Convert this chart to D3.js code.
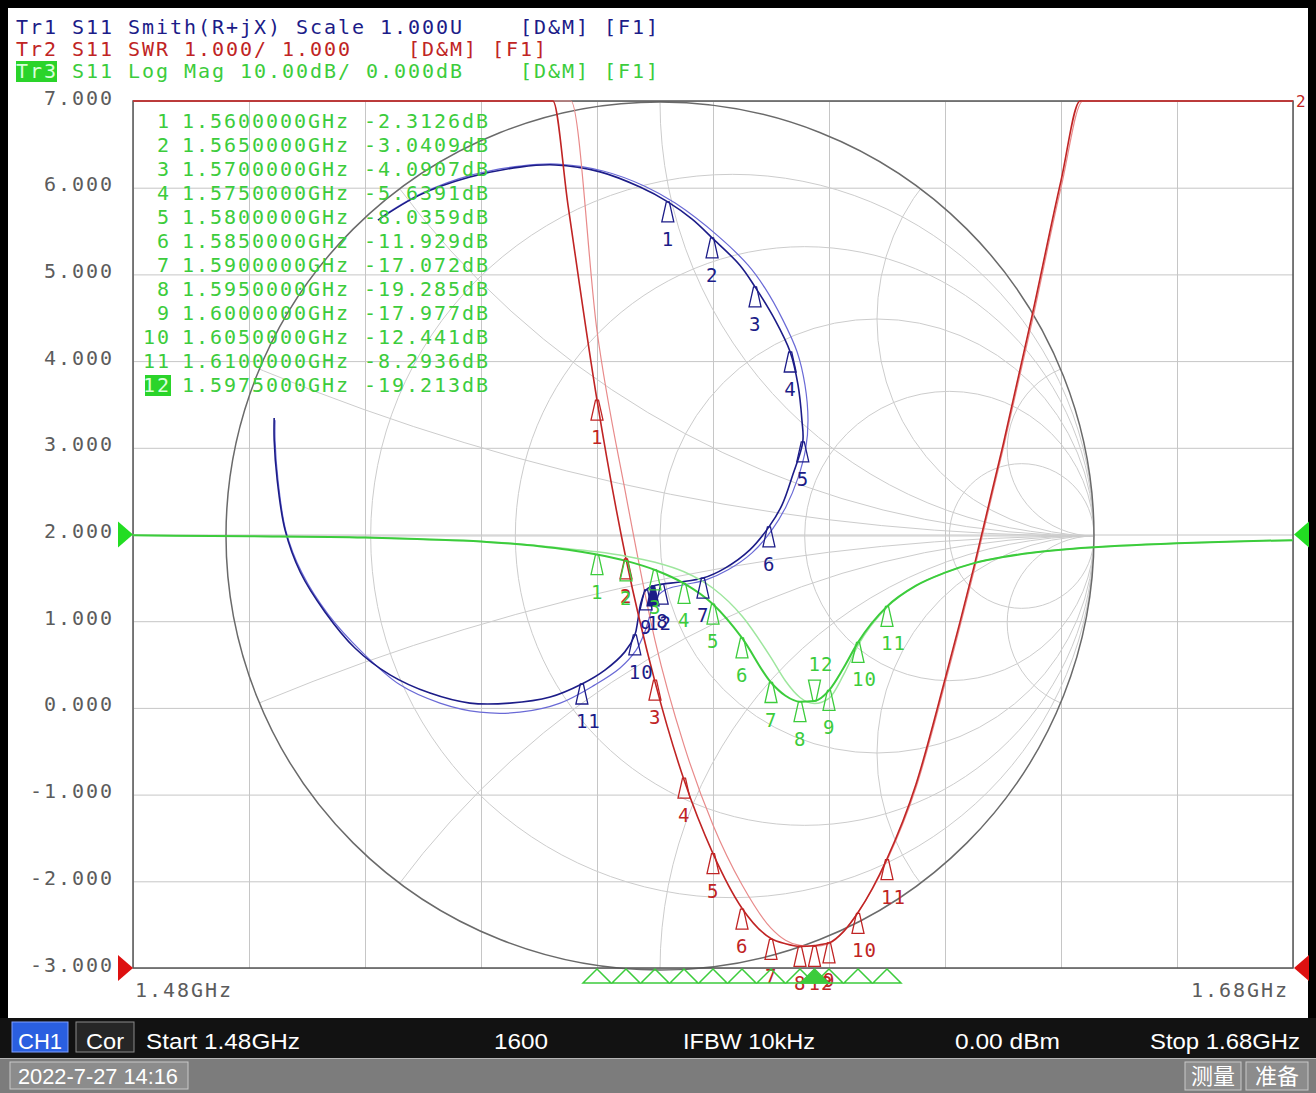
<!DOCTYPE html>
<html>
<head>
<meta charset="utf-8">
<title>S11 - Smith / SWR / Log Mag</title>
<script src="https://cdn.jsdelivr.net/npm/d3@7"></script>
<style>
  html, body { margin: 0; padding: 0; background: #000; }
  svg { display: block; }
  .mono { font-family: 'DejaVu Sans Mono', monospace; font-size: 20px; letter-spacing: 1.96px; white-space: pre; }
  .mlab { font-family: 'DejaVu Sans Mono', monospace; font-size: 19px; letter-spacing: 1px; }
  .bar { font-family: 'Liberation Sans Narrow', 'Liberation Sans', sans-serif; font-size: 22px; fill: #fff; }
</style>
</head>
<body>
<svg id="chart" width="1316" height="1093"></svg>
<script>
// stimulus / axis
const startGHz = 1.48, stopGHz = 1.68;
const xGridTicks = [1.48, 1.50, 1.52, 1.54, 1.56, 1.58, 1.60, 1.62, 1.64, 1.66, 1.68];
const yTicks = [7, 6, 5, 4, 3, 2, 1, 0, -1, -2, -3];
const xLabels = ['1.48GHz', '1.68GHz'];

// markers (from the marker table)
const markerNo = [1, 2, 3, 4, 5, 6, 7, 8, 9, 10, 11, 12];
const markerFreq = [1.56, 1.565, 1.57, 1.575, 1.58, 1.585, 1.59, 1.595, 1.60, 1.605, 1.61, 1.5975];
const markerDb = [-2.3126, -3.0409, -4.0907, -5.6391, -8.0359, -11.929, -17.072, -19.285, -17.977, -12.441, -8.2936, -19.213];
const markerSwr = [7.55, 5.72, 4.32, 3.19, 2.32, 1.68, 1.33, 1.25, 1.29, 1.63, 2.25, 1.25];
const markerRe = [0.018, 0.120, 0.219, 0.300, 0.329, 0.251, 0.099, 0.005, -0.032, -0.058, -0.180, -0.016];
const markerIm = [0.770, 0.687, 0.574, 0.424, 0.217, 0.021, -0.097, -0.111, -0.124, -0.228, -0.341, -0.115];

// Tr3 log mag (dB)
const logFreq = [1.48, 1.50, 1.52, 1.53, 1.54, 1.545, 1.55, 1.555, 1.56, 1.565, 1.57, 1.575, 1.58, 1.585, 1.59, 1.5925, 1.595, 1.5975, 1.60, 1.6025, 1.605, 1.61, 1.615, 1.62, 1.625, 1.63, 1.635, 1.64, 1.645, 1.65, 1.66, 1.67, 1.68];
const logData = [-0.1, -0.2, -0.35, -0.55, -0.8, -1.05, -1.35, -1.75, -2.31, -3.04, -4.09, -5.64, -8.04, -11.93, -17.07, -18.6, -19.29, -19.21, -17.98, -15.4, -12.44, -8.29, -5.9, -4.4, -3.3, -2.6, -2.1, -1.75, -1.5, -1.3, -1.0, -0.8, -0.65];
const logMem = [-0.1, -0.2, -0.35, -0.55, -0.8, -1.0, -1.3, -1.65, -2.0, -2.5, -3.2, -4.3, -6.2, -9.4, -14.2, -16.9, -18.8, -19.5, -18.9, -16.2, -12.8, -8.4, -5.9, -4.4, -3.3, -2.6, -2.1, -1.75, -1.5, -1.3, -1.0, -0.8, -0.65];

// Tr2 SWR
const swrFreq = [1.48, 1.50, 1.52, 1.54, 1.55, 1.5524, 1.555, 1.56, 1.565, 1.57, 1.575, 1.58, 1.585, 1.59, 1.5925, 1.595, 1.5975, 1.60, 1.6025, 1.605, 1.61, 1.615, 1.62, 1.625, 1.63, 1.635, 1.64, 1.6433, 1.65, 1.66, 1.68];
const swrData = [170, 90, 45, 20, 13, 11.0, 9.8, 7.55, 5.72, 4.30, 3.17, 2.32, 1.69, 1.34, 1.28, 1.25, 1.26, 1.29, 1.42, 1.64, 2.26, 3.12, 4.33, 5.63, 7.03, 8.52, 10.08, 11.0, 14, 19, 27];
const swrMemFreq = [1.48, 1.50, 1.52, 1.54, 1.55, 1.5555, 1.56, 1.565, 1.57, 1.575, 1.58, 1.585, 1.59, 1.5925, 1.595, 1.5975, 1.60, 1.6025, 1.605, 1.61, 1.615, 1.62, 1.625, 1.63, 1.635, 1.64, 1.6438, 1.65, 1.66, 1.68];
const swrMem = [200, 110, 60, 28, 17, 11.0, 8.35, 6.45, 4.78, 3.57, 2.65, 1.96, 1.46, 1.32, 1.26, 1.25, 1.28, 1.42, 1.64, 2.24, 3.08, 4.28, 5.58, 6.98, 8.45, 10.0, 11.0, 15, 20, 30];

// Tr1 Smith (reflection coefficient, 1.48 -> 1.68 GHz)
const smithDataRe = [-0.650, -0.553, -0.438, -0.323, -0.242, -0.138, -0.046, 0.018, 0.074, 0.120, 0.184, 0.219, 0.265, 0.300, 0.318, 0.327, 0.329, 0.306, 0.281, 0.251, 0.207, 0.150, 0.099, 0.046, 0.005, -0.016, -0.032, -0.044, -0.051, -0.058, -0.081, -0.127, -0.180, -0.253, -0.346, -0.438, -0.530, -0.622, -0.703, -0.772, -0.829, -0.864, -0.882, -0.889, -0.889];
const smithDataIm = [0.728, 0.786, 0.827, 0.850, 0.855, 0.839, 0.804, 0.770, 0.730, 0.687, 0.624, 0.574, 0.498, 0.424, 0.348, 0.267, 0.217, 0.141, 0.071, 0.021, -0.032, -0.074, -0.097, -0.106, -0.111, -0.115, -0.124, -0.154, -0.194, -0.228, -0.267, -0.309, -0.341, -0.371, -0.385, -0.385, -0.362, -0.320, -0.258, -0.175, -0.083, 0.014, 0.129, 0.221, 0.272];
const smithMemRe = [-0.645, -0.548, -0.433, -0.318, -0.237, -0.131, -0.035, 0.035, 0.134, 0.203, 0.242, 0.283, 0.316, 0.334, 0.341, 0.336, 0.318, 0.290, 0.258, 0.212, 0.157, 0.106, 0.053, 0.012, -0.012, -0.023, -0.035, -0.055, -0.092, -0.150, -0.230, -0.323, -0.415, -0.507, -0.599, -0.687, -0.765, -0.825, -0.862, -0.880, -0.887, -0.887];
const smithMemIm = [0.733, 0.790, 0.832, 0.853, 0.857, 0.841, 0.806, 0.767, 0.691, 0.624, 0.571, 0.498, 0.424, 0.348, 0.267, 0.203, 0.134, 0.067, 0.014, -0.039, -0.078, -0.101, -0.113, -0.124, -0.147, -0.182, -0.221, -0.263, -0.304, -0.343, -0.385, -0.406, -0.406, -0.385, -0.343, -0.267, -0.180, -0.085, 0.012, 0.127, 0.221, 0.267];

// smith grid values
const smithR = [0.2, 0.5, 1, 2, 5];
const smithX = [0.2, 0.5, 1, 2, 5, -0.2, -0.5, -1, -2, -5];

const C = {
  blue: '#1c1c88', blueMem: '#6a6ad6',
  red: '#c02424', redMem: '#e88a8a',
  green: '#3ccc3c', greenMem: '#9ee69e',
  grid: '#c6c6c6', sgrid: '#cccccc'
};

function draw() {
  const svg = d3.select('#chart');
  const plot = {left: 133, right: 1293, top: 101, bottom: 968};

  svg.append('rect').attr('width', 1316).attr('height', 1093).attr('fill', '#000');
  svg.append('rect').attr('x', 8).attr('y', 8).attr('width', 1300).attr('height', 1010).attr('fill', '#fff');

  const x = d3.scaleLinear().domain([startGHz, stopGHz]).range([plot.left, plot.right]);
  const yDiv = d3.scaleLinear().domain([-3, 7]).range([plot.bottom, plot.top]);
  const yDb = d3.scaleLinear().domain([-50, 50]).range([plot.bottom, plot.top]).clamp(true);
  const ySwr = d3.scaleLinear().domain([1, 11]).range([plot.bottom, plot.top]).clamp(true);

  const cx = 660, cy = 536, R = 434;
  const gx = d3.scaleLinear().domain([-1, 1]).range([cx - R, cx + R]);
  const gy = d3.scaleLinear().domain([-1, 1]).range([cy + R, cy - R]);

  const defs = svg.append('defs');
  defs.append('clipPath').attr('id', 'unit')
    .append('circle').attr('cx', gx(0)).attr('cy', gy(0)).attr('r', R);
  defs.append('clipPath').attr('id', 'plotClip')
    .append('rect').attr('x', plot.left).attr('y', plot.top - 2)
    .attr('width', plot.right - plot.left).attr('height', plot.bottom - plot.top + 4);

  // rectangular grid
  svg.append('g').attr('transform', `translate(0,${plot.bottom})`)
    .call(d3.axisBottom(x).tickValues(xGridTicks).tickSize(-(plot.bottom - plot.top)).tickFormat(''))
    .call(g => g.select('.domain').remove())
    .call(g => g.selectAll('line').attr('stroke', C.grid));
  svg.append('g').attr('transform', `translate(${plot.left},0)`)
    .call(d3.axisLeft(yDiv).tickValues(yTicks).tickSize(-(plot.right - plot.left)).tickFormat(''))
    .call(g => g.select('.domain').remove())
    .call(g => g.selectAll('line').attr('stroke', C.grid));

  // smith grid
  const sg = svg.append('g').attr('clip-path', 'url(#unit)').attr('fill', 'none')
    .attr('stroke', C.sgrid).attr('stroke-width', 1);
  smithR.forEach(r => {
    sg.append('circle').attr('cx', gx(r / (1 + r))).attr('cy', gy(0)).attr('r', gx(1 / (1 + r)) - gx(0));
  });
  smithX.forEach(v => {
    sg.append('circle').attr('cx', gx(1)).attr('cy', gy(1 / v)).attr('r', gx(1 / Math.abs(v)) - gx(0));
  });
  sg.append('line').attr('x1', gx(-1)).attr('x2', gx(1)).attr('y1', gy(0)).attr('y2', gy(0));
  svg.append('circle').attr('cx', gx(0)).attr('cy', gy(0)).attr('r', R)
    .attr('fill', 'none').attr('stroke', '#6a6a6a').attr('stroke-width', 1.5);

  svg.append('rect').attr('x', plot.left).attr('y', plot.top)
    .attr('width', plot.right - plot.left).attr('height', plot.bottom - plot.top)
    .attr('fill', 'none').attr('stroke', '#555').attr('stroke-width', 1.5);

  // axis labels
  const fmt3 = d3.formatLocale({decimal: '.', thousands: ',', grouping: [3], currency: ['', ''], minus: '-'}).format('.3f');
  svg.append('g').attr('transform', `translate(${plot.left},0)`)
    .call(d3.axisLeft(yDiv).tickValues(yTicks).tickSize(0).tickPadding(19).tickFormat(fmt3))
    .call(g => g.select('.domain').remove())
    .call(g => g.selectAll('text').attr('class', 'mono').attr('fill', '#5c5c5c').attr('dy', 3));
  svg.append('text').attr('class', 'mono').attr('x', x(startGHz) + 2).attr('y', 997)
    .attr('fill', '#5c5c5c').text(xLabels[0]);
  svg.append('text').attr('class', 'mono').attr('x', x(stopGHz) - 4).attr('y', 997)
    .attr('text-anchor', 'end').attr('fill', '#5c5c5c').text(xLabels[1]);

  // traces
  const smithLine = d3.line().x(d => gx(d[0])).y(d => gy(d[1])).curve(d3.curveCatmullRom);
  svg.append('path').datum(d3.zip(smithMemRe, smithMemIm)).attr('d', smithLine)
    .attr('fill', 'none').attr('stroke', C.blueMem).attr('stroke-width', 1.2);
  svg.append('path').datum(d3.zip(smithDataRe, smithDataIm)).attr('d', smithLine)
    .attr('fill', 'none').attr('stroke', C.blue).attr('stroke-width', 1.6);

  const traces = svg.append('g').attr('clip-path', 'url(#plotClip)');
  const swrLine = d3.line().x(d => x(d[0])).y(d => ySwr(d[1])).curve(d3.curveMonotoneX);
  const dbLine = d3.line().x(d => x(d[0])).y(d => yDb(d[1])).curve(d3.curveMonotoneX);
  traces.append('path').datum(d3.zip(swrMemFreq, swrMem)).attr('d', swrLine)
    .attr('fill', 'none').attr('stroke', C.redMem).attr('stroke-width', 1.2);
  traces.append('path').datum(d3.zip(swrFreq, swrData)).attr('d', swrLine)
    .attr('fill', 'none').attr('stroke', C.red).attr('stroke-width', 1.6);
  traces.append('path').datum(d3.zip(logFreq, logMem)).attr('d', dbLine)
    .attr('fill', 'none').attr('stroke', C.greenMem).attr('stroke-width', 1.5);
  traces.append('path').datum(d3.zip(logFreq, logData)).attr('d', dbLine)
    .attr('fill', 'none').attr('stroke', C.green).attr('stroke-width', 2);

  // markers
  function marker(px, py, no, color, opt) {
    const g = svg.append('g');
    const down = opt && opt.down;
    const path = down
      ? `M${px - 6},${py - 21}L${px + 6},${py - 21}L${px + 1.5},${py}L${px - 1.5},${py}Z`
      : `M${px - 1.5},${py}L${px + 1.5},${py}L${px + 6},${py + 20}L${px - 6},${py + 20}Z`;
    g.append('path').attr('d', path)
      .attr('fill', opt && opt.filled ? color : 'none')
      .attr('stroke', color).attr('stroke-width', 1.3);
    g.append('text').attr('class', 'mlab').attr('fill', color)
      .attr('x', px - 6 + ((opt && opt.dx) || 0)).attr('y', down ? py - 30 : py + 44).text(no);
  }
  markerNo.forEach((no, i) => {
    marker(x(markerFreq[i]), ySwr(markerSwr[i]), no, C.red);
  });
  markerNo.forEach((no, i) => {
    marker(gx(markerRe[i]), gy(markerIm[i]), no, C.blue, {filled: no === 12});
  });
  markerNo.forEach((no, i) => {
    marker(x(markerFreq[i]), yDb(markerDb[i]), no, C.green, {down: no === 12});
  });

  // stimulus marker row
  markerNo.forEach((no, i) => {
    const px = x(markerFreq[i]);
    svg.append('path').attr('d', `M${px},${plot.bottom + 1}L${px + 14},${plot.bottom + 15}L${px - 14},${plot.bottom + 15}Z`)
      .attr('fill', no === 12 ? C.green : 'none').attr('stroke', C.green).attr('stroke-width', 1.5);
  });

  // reference arrows
  const ref = (px, py, dir, color) => svg.append('path')
    .attr('d', `M${px},${py}L${px - 15 * dir},${py - 13}L${px - 15 * dir},${py + 13}Z`).attr('fill', color);
  ref(plot.left, yDb(0), 1, '#22dd22');
  ref(plot.right + 1, yDb(0), -1, '#22dd22');
  ref(plot.left, ySwr(1), 1, '#dd1010');
  ref(plot.right + 1, ySwr(1), -1, '#dd1010');
  svg.append('text').attr('x', plot.right + 3).attr('y', plot.top + 6)
    .attr('font-family', 'DejaVu Sans Mono').attr('font-size', 16).attr('fill', C.red).text('2');

  // marker table
  markerNo.forEach((no, i) => {
    const y = 128 + i * 24;
    const idx = String(no);
    if (no === 12) {
      svg.append('rect').attr('x', 145).attr('y', y - 17).attr('width', 26).attr('height', 21).attr('fill', '#2ad42a');
    }
    svg.append('text').attr('class', 'mono').attr('x', 171 - idx.length * 14).attr('y', y)
      .attr('fill', no === 12 ? '#d8ffd8' : C.green).text(idx);
    svg.append('text').attr('class', 'mono').attr('x', 182).attr('y', y).attr('fill', C.green)
      .text(`${markerFreq[i].toFixed(7)}GHz ${String(markerDb[i])}dB`);
  });

  // header
  svg.append('text').attr('class', 'mono').attr('x', 16).attr('y', 34).attr('fill', C.blue)
    .text('Tr1 S11 Smith(R+jX) Scale 1.000U    [D&M] [F1]');
  svg.append('text').attr('class', 'mono').attr('x', 16).attr('y', 56).attr('fill', C.red)
    .text('Tr2 S11 SWR 1.000/ 1.000    [D&M] [F1]');
  svg.append('rect').attr('x', 16).attr('y', 61).attr('width', 41).attr('height', 21).attr('fill', '#2ad42a');
  svg.append('text').attr('class', 'mono').attr('x', 16).attr('y', 78).attr('fill', '#d8ffd8').text('Tr3');
  svg.append('text').attr('class', 'mono').attr('x', 16 + 4 * 14).attr('y', 78).attr('fill', C.green)
    .text('S11 Log Mag 10.00dB/ 0.000dB    [D&M] [F1]');

  // status bars
  svg.append('rect').attr('x', 0).attr('y', 1018).attr('width', 1316).attr('height', 40).attr('fill', '#121212');
  svg.append('rect').attr('x', 0).attr('y', 1058).attr('width', 1316).attr('height', 35).attr('fill', '#7c7c7c');
  svg.append('line').attr('x1', 0).attr('x2', 1316).attr('y1', 1058.5).attr('y2', 1058.5).attr('stroke', '#b4b4b4');
  svg.append('rect').attr('x', 12).attr('y', 1022).attr('width', 56).attr('height', 30)
    .attr('fill', '#2a5fe0').attr('stroke', '#7fa0ff');
  svg.append('rect').attr('x', 76).attr('y', 1022).attr('width', 58).attr('height', 30)
    .attr('fill', '#262626').attr('stroke', '#8a8a8a');
  const bar = [
    {t: 'CH1', x: 18, w: 44},
    {t: 'Cor', x: 86, w: 38},
    {t: 'Start 1.48GHz', x: 146, w: 154},
    {t: '1600', x: 494, w: 54},
    {t: 'IFBW 10kHz', x: 683, w: 132},
    {t: '0.00 dBm', x: 955, w: 105},
    {t: 'Stop 1.68GHz', x: 1150, w: 150}
  ];
  bar.forEach(b => {
    svg.append('text').attr('class', 'bar').attr('x', b.x).attr('y', 1049)
      .attr('textLength', b.w).attr('lengthAdjust', 'spacingAndGlyphs').text(b.t);
  });
  svg.append('rect').attr('x', 10).attr('y', 1062).attr('width', 178).attr('height', 27)
    .attr('fill', '#8c8c8c').attr('stroke', '#c8c8c8');
  svg.append('text').attr('class', 'bar').attr('x', 18).attr('y', 1084)
    .attr('textLength', 160).attr('lengthAdjust', 'spacingAndGlyphs').text('2022-7-27 14:16');
  [{t: '测量', x: 1185, w: 56}, {t: '准备', x: 1246, w: 62}].forEach(b => {
    svg.append('rect').attr('x', b.x).attr('y', 1062).attr('width', b.w).attr('height', 28)
      .attr('fill', '#8c8c8c').attr('stroke', '#c8c8c8');
    svg.append('text').attr('x', b.x + b.w / 2).attr('y', 1084).attr('text-anchor', 'middle')
      .attr('font-family', "'Noto Sans CJK SC', sans-serif").attr('font-size', 22).attr('fill', '#fff').text(b.t);
  });
}

draw();
</script>
</body>
</html>
